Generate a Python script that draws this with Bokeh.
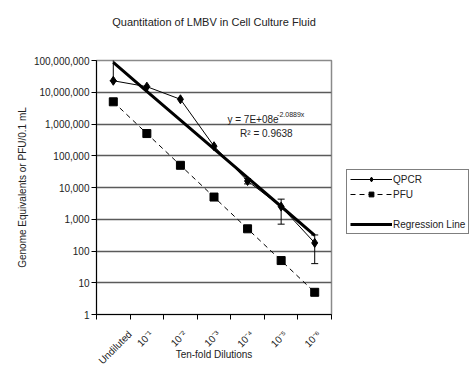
import math
from bokeh.plotting import figure
from bokeh.models import (FixedTicker, NumeralTickFormatter, ColumnDataSource,
                          Whisker, Legend, LegendItem, Label, Range1d)
from bokeh.embed import file_html
from bokeh.resources import INLINE

# ---- data ----
categories = ["Undiluted", "10⁻¹", "10⁻²", "10⁻³", "10⁻⁴", "10⁻⁵", "10⁻⁶"]
qpcr = [2.3e7, 1.5e7, 6.0e6, 2.0e5, 1.6e4, 2.5e3, 180]
qpcr_err = [9.0e7, 0, 0, 0, 3.0e3, 1.8e3, 140]
pfu = [5.0e6, 5.0e5, 5.0e4, 5.0e3, 500, 50, 5]
reg_a = 7e8
reg_b = -2.0889
y_ticks = [1, 10, 100, 1000, 1e4, 1e5, 1e6, 1e7, 1e8]

FONT = "Liberation Sans"
xs = [i + 0.5 for i in range(len(categories))]
reg_y = [reg_a * math.exp(reg_b * (i + 1)) for i in range(len(categories))]

# rotated labels are centred on their category (as in the original):
# shift the right-aligned label anchor by a length-dependent amount
label_x = [x + (0.5 if len(c) > 5 else 0.13) for x, c in zip(xs, categories)]

p = figure(frame_width=235, frame_height=254, y_axis_type="log",
           x_range=Range1d(0, 7), y_range=Range1d(1, 1e8),
           output_backend="svg", toolbar_location=None,
           min_border_left=96, min_border_right=143,
           min_border_top=60, min_border_bottom=54)

# trailing empty lines lift the title to where the original has it
p.title.text = "Quantitation of LMBV in Cell Culture Fluid\n \n "
p.title.align = "center"
p.title.standoff = 18
p.title.text_font = FONT
p.title.text_font_size = "11px"
p.title.text_font_style = "normal"
p.title.text_color = "#222222"

p.outline_line_color = "#8a8a8a"
p.outline_line_width = 1.5

# grid
p.xgrid.grid_line_color = None
p.ygrid.grid_line_color = "#5a5a5a"
p.ygrid.grid_line_width = 1.3
p.ygrid.minor_grid_line_color = None

# y axis
p.yaxis.ticker = FixedTicker(ticks=y_ticks, minor_ticks=[])
p.yaxis.formatter = NumeralTickFormatter(format="0,0")
p.yaxis.major_tick_out = 5
p.yaxis.major_tick_in = 0
p.yaxis.minor_tick_out = 0
p.yaxis.minor_tick_in = 0
p.yaxis.axis_line_color = "black"
p.yaxis.major_label_standoff = 2
p.yaxis.major_label_text_font = FONT
p.yaxis.major_label_text_font_size = "10px"
p.yaxis.major_label_text_color = "#222222"
p.yaxis.axis_label = "Genome Equivalents or PFU/0.1 mL"
p.yaxis.axis_label_text_font = FONT
p.yaxis.axis_label_text_font_size = "10px"
p.yaxis.axis_label_text_font_style = "normal"
p.yaxis.axis_label_text_color = "#222222"
p.yaxis.axis_label_standoff = 3

# x axis (labels centred on categories, ticks at category boundaries)
p.xaxis.ticker = FixedTicker(ticks=label_x, minor_ticks=list(range(len(categories) + 1)))
p.xaxis.major_label_overrides = {x: c for x, c in zip(label_x, categories)}
p.xaxis.major_tick_out = 0
p.xaxis.major_tick_in = 0
p.xaxis.minor_tick_out = 5
p.xaxis.minor_tick_in = 0
p.xaxis.minor_tick_line_color = "black"
p.xaxis.axis_line_color = "black"
p.xaxis.major_label_orientation = math.pi / 4
p.xaxis.major_label_standoff = 13
p.xaxis.major_label_text_font = FONT
p.xaxis.major_label_text_font_size = "10px"
p.xaxis.major_label_text_color = "#222222"
p.xaxis.axis_label = "Ten-fold Dilutions"
p.xaxis.axis_label_text_font = FONT
p.xaxis.axis_label_text_font_size = "10px"
p.xaxis.axis_label_text_font_style = "normal"
p.xaxis.axis_label_text_color = "#222222"
p.xaxis.axis_label_standoff = -24

# ---- series ----
src_q = ColumnDataSource(dict(x=xs, y=qpcr))
src_p = ColumnDataSource(dict(x=xs, y=pfu))
src_r = ColumnDataSource(dict(x=xs, y=reg_y))

q_line = p.line("x", "y", source=src_q, line_color="black", line_width=1)
q_pts = p.scatter("x", "y", source=src_q, marker="diamond", size=9,
                  fill_color="black", line_color="black")
p_line = p.line("x", "y", source=src_p, line_color="black", line_width=1,
                line_dash="5 4")
p_pts = p.scatter("x", "y", source=src_p, marker="square", size=8,
                  fill_color="black", line_color="black")
r_line = p.line("x", "y", source=src_r, line_color="black", line_width=3)

# error bars
ex, lo, up = [], [], []
for x, v, e in zip(xs, qpcr, qpcr_err):
    if e > 0:
        ex.append(x)
        lo.append(v - e if v - e > 0 else v)
        up.append(v + e)
src_e = ColumnDataSource(dict(x=ex, lower=lo, upper=up))
wh = Whisker(base="x", lower="lower", upper="upper", source=src_e,
             line_color="black", line_width=1)
wh.upper_head.size = 7
wh.lower_head.size = 7
wh.upper_head.line_color = "black"
wh.lower_head.line_color = "black"
p.add_layout(wh)

# legend
blank = p.line("x", "y", source=src_r, line_alpha=0)
legend = Legend(items=[
    LegendItem(label="QPCR", renderers=[q_line, q_pts]),
    LegendItem(label="PFU", renderers=[p_line, p_pts]),
    LegendItem(label=" ", renderers=[blank]),
    LegendItem(label="Regression Line", renderers=[r_line]),
], location=(15, 80))
legend.border_line_color = "black"
legend.border_line_width = 1
legend.background_fill_color = "white"
legend.label_text_font = FONT
legend.label_text_font_size = "10px"
legend.label_text_color = "#222222"
legend.glyph_width = 42
legend.glyph_height = 12
legend.label_height = 12
legend.label_standoff = 1
legend.spacing = 3
legend.padding = 3
legend.margin = 0
p.add_layout(legend, "right")

# trendline equation
p.add_layout(Label(x=3.9, y=10 ** 6.14, text="y = 7E+08e", text_font=FONT,
                   text_font_size="10px", text_color="#222222",
                   text_baseline="middle", text_align="left"))
p.add_layout(Label(x=5.38, y=10 ** 6.30, text="-2.0889x", text_font=FONT,
                   text_font_size="7px", text_color="#222222",
                   text_baseline="middle", text_align="left"))
p.add_layout(Label(x=5.06, y=10 ** 5.70, text="R² = 0.9638", text_font=FONT,
                   text_font_size="10px", text_color="#222222",
                   text_baseline="middle", text_align="center"))

open("out.html", "w").write(file_html(p, INLINE))
